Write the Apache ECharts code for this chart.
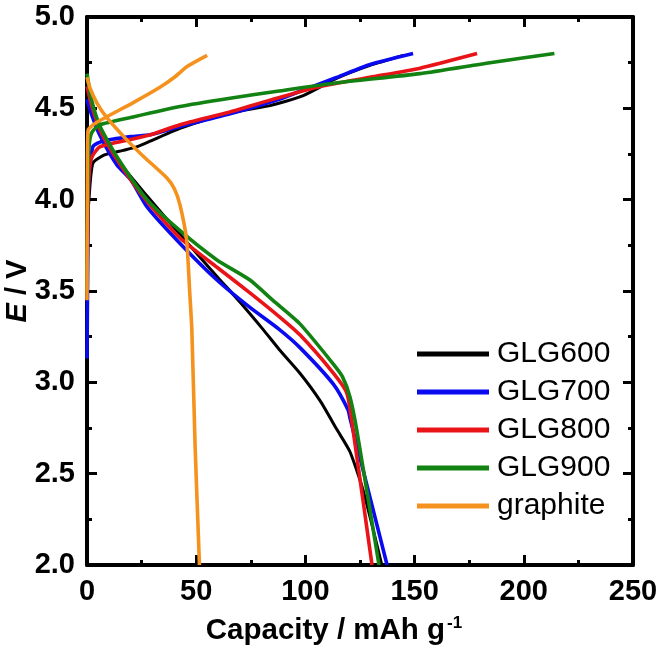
<!DOCTYPE html>
<html>
<head>
<meta charset="utf-8">
<script src="https://cdn.jsdelivr.net/npm/echarts@6/dist/echarts.min.js"></script>
<style>html,body{margin:0;padding:0;background:#fff}#c{width:663px;height:645px}</style>
</head>
<body>
<div id="c"></div>
<script>
// Tick labels
const xTicks = [0, 50, 100, 150, 200, 250];
const yTicks = [2.0, 2.5, 3.0, 3.5, 4.0, 4.5, 5.0];
const seriesNames = ['GLG600', 'GLG700', 'GLG800', 'GLG900', 'graphite'];

// [capacity mAh/g, E V]
const glg600Charge = [[0,3.5],[0.4,3.9],[1,4.02],[2.7,4.2],[8,4.245],[16.5,4.27],[23,4.29],[29,4.32],[42.6,4.39],[65.5,4.475],[83.8,4.515],[99,4.57],[114.5,4.665],[129.6,4.735],[145,4.79]];
const glg600Discharge = [[0,4.6],[2,4.5],[6,4.37],[13.7,4.22],[27.5,4.02],[42.6,3.81],[59.5,3.58],[70,3.44],[80.6,3.29],[88,3.18],[97.5,3.05],[106.7,2.9],[114.5,2.74],[120.4,2.62],[126.4,2.41],[135,2.0]];

const glg700Charge = [[0,3.13],[0.3,3.6],[0.8,4.1],[2.7,4.29],[7,4.32],[20,4.345],[29,4.355],[42.6,4.4],[65.5,4.47],[88,4.55],[99,4.6],[114.5,4.67],[129.6,4.74],[149.3,4.8]];
const glg700Discharge = [[0,4.55],[2,4.47],[6,4.35],[13.7,4.19],[20,4.11],[27.5,3.96],[42.6,3.76],[59.5,3.56],[74.6,3.41],[88,3.29],[97.5,3.19],[112.8,2.99],[119.5,2.85],[120.5,2.8],[137.4,2.0]];

const glg800Charge = [[0,3.5],[0.4,3.95],[1,4.15],[2.3,4.235],[6,4.29],[20,4.33],[29,4.355],[42.6,4.41],[65.5,4.48],[83.8,4.545],[106.7,4.62],[129.6,4.67],[152.5,4.72],[178.6,4.8]];
const glg800Discharge = [[0,4.62],[2,4.52],[6,4.38],[13.7,4.22],[27.5,3.99],[42.6,3.79],[59.5,3.63],[74.6,3.49],[88,3.36],[97.5,3.26],[112.8,3.05],[119,2.94],[121.8,2.74],[130.5,2.0]];

const glg900Charge = [[0,3.5],[0.4,4.1],[1,4.3],[2.3,4.37],[6,4.41],[20,4.45],[42.6,4.51],[65.5,4.555],[88,4.595],[114.5,4.64],[152.5,4.69],[184.5,4.75],[214,4.8]];
const glg900Discharge = [[0,4.69],[2,4.55],[6,4.4],[13.7,4.235],[27.5,4.0],[42.6,3.83],[59.5,3.67],[74.6,3.56],[85,3.45],[97.5,3.32],[112.8,3.1],[117,3.03],[120.4,2.92],[123.5,2.74],[133.7,2.0]];

const graphiteCharge = [[0,3.45],[0.2,4.2],[0.5,4.38],[4,4.42],[21,4.53],[33.4,4.615],[40,4.67],[46,4.73],[55,4.79]];
const graphiteDischarge = [[0,4.67],[1.4,4.61],[4.5,4.53],[9,4.45],[18,4.33],[26,4.235],[36.5,4.12],[40,4.06],[42.6,3.97],[45.6,3.78],[47,3.5],[48,3.29],[49.5,2.65],[51.5,2.0]];

const colors = ['#000000', '#0a0af0', '#e81418', '#128212', '#f5921e'];
const curves = [
  [glg600Charge, glg600Discharge],
  [glg700Charge, glg700Discharge],
  [glg800Charge, glg800Discharge],
  [glg900Charge, glg900Discharge],
  [graphiteCharge, graphiteDischarge]
];

const series = [];
curves.forEach((pair, i) => {
  pair.forEach(d => {
    series.push({
      name: seriesNames[i], type: 'line', data: d, showSymbol: false,
      smooth: 0.2, clip: false, color: colors[i],
      lineStyle: { width: i === 0 ? 3 : 3.6, color: colors[i] },
      z: 2 + i
    });
  });
});

const tickFont = { fontFamily: 'Liberation Sans, Arial', fontWeight: 'bold', fontSize: 29, color: '#000' };
const axisLine = { show: true, onZero: false, lineStyle: { color: '#000', width: 4 } };
const axisTick = { show: true, inside: true, length: 10, lineStyle: { color: '#000', width: 3 } };
const minorTick = { show: true, splitNumber: 2, length: 5, lineStyle: { color: '#000', width: 3 } };

const chart = echarts.init(document.getElementById('c'), null, { renderer: 'canvas' });
chart.setOption({
  animation: false,
  backgroundColor: '#fff',
  grid: { left: 87, right: 30, top: 17, bottom: 80, containLabel: false, outerBoundsMode: 'none' },
  legend: {
    orient: 'vertical', left: 412, top: 334, data: seriesNames,
    icon: 'rect', itemWidth: 72, itemHeight: 5, itemGap: 8,
    textStyle: { fontFamily: 'Liberation Sans, Arial', fontSize: 30, color: '#000', lineHeight: 30, padding: [0, 0, 0, 3] }
  },
  xAxis: [
    {
      type: 'value', position: 'bottom', min: xTicks[0], max: xTicks[xTicks.length - 1], interval: 50,
      axisLine, axisTick, minorTick, splitLine: { show: false },
      axisLabel: Object.assign({ margin: 12 }, tickFont),
      name: '{a|Capacity / mAh g}{s|-1}', nameLocation: 'middle', nameGap: 50, nameMoveOverlap: false,
      nameTextStyle: {
        padding: [0, 52, 0, 0],
        rich: {
          a: { fontFamily: 'Liberation Sans, Arial', fontWeight: 'bold', fontSize: 29.5, color: '#000', verticalAlign: 'bottom' },
          s: { fontFamily: 'Liberation Sans, Arial', fontWeight: 'bold', fontSize: 17, color: '#000', verticalAlign: 'top', padding: [0, 0, 14, 2] }
        }
      }
    },
    {
      type: 'value', position: 'top', min: 0, max: 250, interval: 50,
      axisLine, axisTick, minorTick, splitLine: { show: false }, axisLabel: { show: false }
    }
  ],
  yAxis: [
    {
      type: 'value', position: 'left', min: yTicks[0], max: yTicks[yTicks.length - 1], interval: 0.5,
      axisLine, axisTick, minorTick, splitLine: { show: false },
      axisLabel: Object.assign({ margin: 12, formatter: v => v.toFixed(1) }, tickFont),
      name: '{i|E}{a| / V}', nameLocation: 'middle', nameGap: 55, nameRotate: 90, nameMoveOverlap: false,
      nameTextStyle: {
        rich: {
          i: { fontFamily: 'Liberation Sans, Arial', fontWeight: 'bold', fontStyle: 'italic', fontSize: 29, color: '#000' },
          a: { fontFamily: 'Liberation Sans, Arial', fontWeight: 'bold', fontSize: 29, color: '#000' }
        }
      }
    },
    {
      type: 'value', position: 'right', min: 2, max: 5, interval: 0.5,
      axisLine, axisTick, minorTick, splitLine: { show: false }, axisLabel: { show: false }
    }
  ],
  series
});
</script>
</body>
</html>
